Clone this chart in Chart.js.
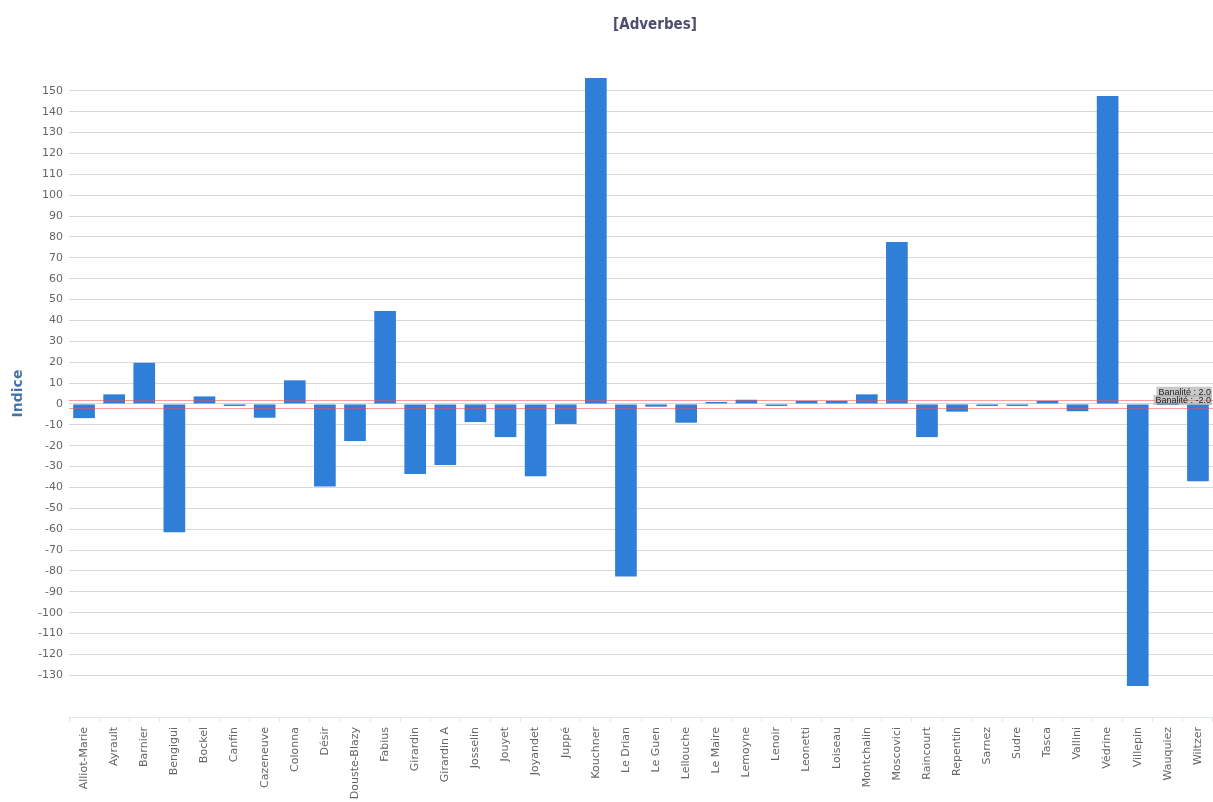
<!DOCTYPE html>
<html>
<head>
<meta charset="utf-8">
<script src="https://cdn.jsdelivr.net/npm/chart.js@4"></script>
<style>
    html, body { margin: 0; padding: 0; background: #fff; }
    #box { width: 1213px; height: 802px; }
</style>
</head>
<body>
<div id="box"><canvas id="graphique"></canvas></div>
<script>
const categories = ['Alliot-Marie', 'Ayrault', 'Barnier', 'Bengigui', 'Bockel', 'Canfin', 'Cazeneuve', 'Colonna',
    'Désir', 'Douste-Blazy', 'Fabius', 'Girardin', 'Girardin A', 'Josselin', 'Jouyet', 'Joyandet', 'Juppé',
    'Kouchner', 'Le Drian', 'Le Guen', 'Lellouche', 'Le Maire', 'Lemoyne', 'Lenoir', 'Leonetti', 'Loiseau',
    'Montchalin', 'Moscovici', 'Raincourt', 'Repentin', 'Sarnez', 'Sudre', 'Tasca', 'Vallini', 'Védrine',
    'Villepin', 'Wauquiez', 'Wiltzer'];
const indices = [-6.8, 4.6, 19.7, -61.5, 3.6, -0.6, -6.6, 11.3,
    -39.6, -17.8, 44.5, -33.6, -29.3, -8.7, -15.9, -34.6, -9.6,
    156.2, -82.7, -1.3, -9.0, 0.3, 2.0, -0.8, 1.5, 1.5,
    4.6, 77.6, -15.9, -3.7, -0.4, -0.8, 1.5, -3.5, 147.6,
    -135.2, 0, -37.0];
const banalite = [2.0, -2.0];
const titre = '[Adverbes]';
const tickMin = -130;
const tickMax = 150;

document.addEventListener("DOMContentLoaded", function() {
    // titre, lignes de banalité (rouges) et leurs étiquettes
    const decor = {
        id: 'decor',
        afterDatasetsDraw(chart) {
            const ctx = chart.ctx;
            const area = chart.chartArea;
            const y = chart.scales.y;
            ctx.save();
            ctx.font = 'bold 15px "DejaVu Sans Condensed"';
            ctx.fillStyle = '#4d4d6e';
            ctx.textAlign = 'center';
            ctx.textBaseline = 'middle';
            ctx.fillText(titre, 655, 25);

            banalite.forEach(function(v) {
                const py = Math.round(y.getPixelForValue(v)) + 0.5;
                ctx.strokeStyle = 'rgba(240, 80, 80, 0.55)';
                ctx.lineWidth = 1;
                ctx.beginPath();
                ctx.moveTo(area.left, py);
                ctx.lineTo(area.right, py);
                ctx.stroke();
            });
            banalite.forEach(function(v) {
                const py = y.getPixelForValue(v);
                const txt = 'Banalité : ' + v.toFixed(1);
                ctx.font = '9px "Liberation Sans"';
                const w = ctx.measureText(txt).width;
                const xr = area.right - 2;
                ctx.fillStyle = 'rgba(165, 165, 165, 0.6)';
                ctx.fillRect(xr - w - 2, py - 13, w + 3, 10);
                ctx.fillStyle = '#222';
                ctx.textAlign = 'right';
                ctx.textBaseline = 'alphabetic';
                ctx.fillText(txt, xr, py - 5);
            });
            ctx.restore();
        }
    };

    const ctx = document.getElementById('graphique').getContext('2d');
    new Chart(ctx, {
        type: 'bar',
        data: {
            labels: categories,
            datasets: [{
                label: 'Indice',
                data: indices,
                backgroundColor: '#2f7ed8',
                borderWidth: 0,
                minBarLength: 2,
                categoryPercentage: 1,
                barPercentage: 0.72
            }]
        },
        plugins: [decor],
        options: {
            responsive: true,
            maintainAspectRatio: false,
            animation: false,
            layout: { padding: { top: 70 } },
            plugins: {
                legend: { display: false },
                tooltip: { enabled: false },
                title: { display: false }
            },
            scales: {
                x: {
                    offset: true,
                    afterFit: function(scale) {
                        scale.height = 85;
                        scale.paddingLeft = 0;
                        scale.paddingRight = 0;
                    },
                    grid: {
                        offset: true,
                        drawOnChartArea: false,
                        drawTicks: true,
                        tickLength: 5,
                        color: '#dfe6ee'
                    },
                    border: { color: '#dfe6ee' },
                    ticks: {
                        autoSkip: false,
                        minRotation: 90,
                        maxRotation: 90,
                        padding: 5,
                        color: '#666',
                        font: { family: '"DejaVu Sans"', size: 11 }
                    }
                },
                y: {
                    min: -150,
                    max: 160,
                    afterFit: function(scale) { scale.width = 69; },
                    title: {
                        display: true,
                        text: 'Indice',
                        color: '#4572a7',
                        font: { family: '"DejaVu Sans"', size: 14, weight: 'bold' },
                        padding: { top: 10, bottom: 0 }
                    },
                    border: { display: false },
                    grid: {
                        drawTicks: false,
                        color: function(c) {
                            const v = c.tick ? c.tick.value : 0;
                            return (v < tickMin || v > tickMax) ? 'rgba(0,0,0,0)' : '#d8d8d8';
                        }
                    },
                    ticks: {
                        stepSize: 10,
                        padding: 6,
                        color: '#666',
                        font: { family: '"DejaVu Sans"', size: 11 },
                        callback: function(v) {
                            return (v < tickMin || v > tickMax) ? '' : v;
                        }
                    }
                }
            }
        }
    });
});
</script>
</body>
</html>
